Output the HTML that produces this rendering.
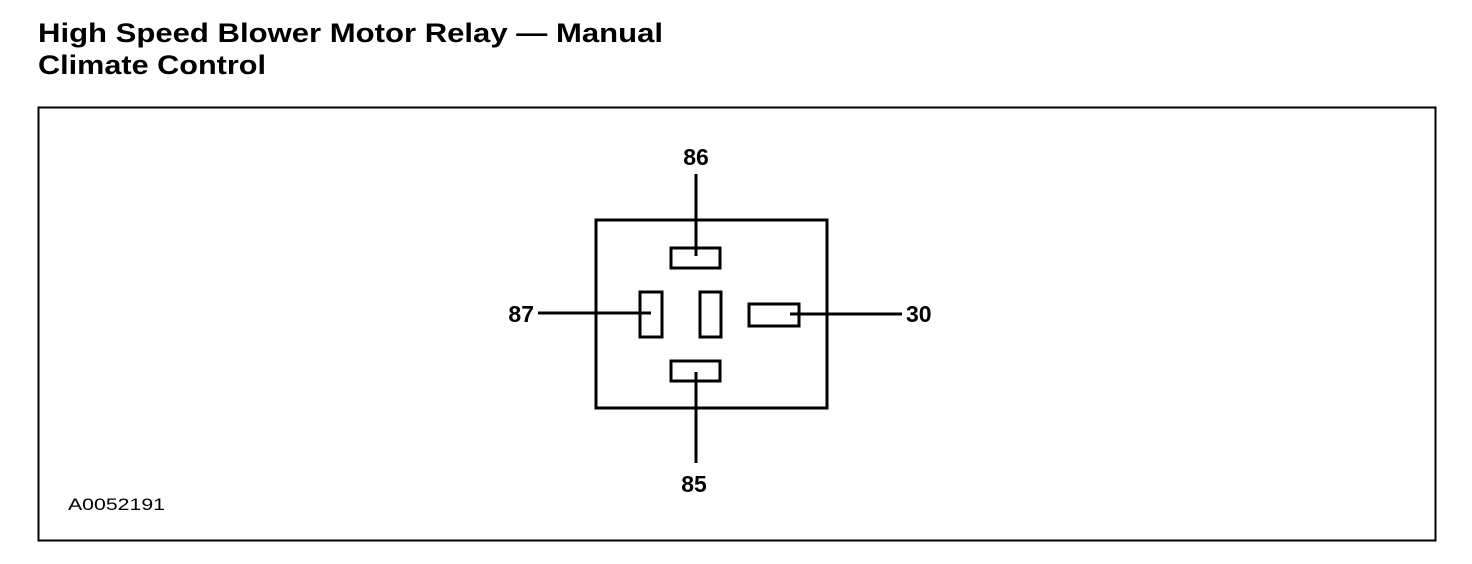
<!DOCTYPE html>
<html><head><style>
html,body{margin:0;padding:0;background:#fff;}
svg{display:block;}
text{font-family:"Liberation Sans",Arial,sans-serif;fill:#000;}
</style></head><body>
<svg width="1472" height="564" viewBox="0 0 1472 564" xmlns="http://www.w3.org/2000/svg">
<text x="38" y="42" font-size="27" font-weight="bold" textLength="625" lengthAdjust="spacingAndGlyphs">High Speed Blower Motor Relay — Manual</text>
<text x="38" y="74" font-size="27" font-weight="bold" textLength="228" lengthAdjust="spacingAndGlyphs">Climate Control</text>
<rect x="38.5" y="107.5" width="1397" height="433" fill="none" stroke="#000" stroke-width="2"/>
<g fill="none" stroke="#000" stroke-width="3">
<rect x="596" y="220" width="231" height="188"/>
<rect x="671" y="248" width="49" height="20"/>
<rect x="640" y="292" width="22" height="45"/>
<rect x="700" y="292" width="21" height="45"/>
<rect x="749" y="304" width="50" height="22"/>
<rect x="671" y="361" width="49" height="20"/>
<line x1="696" y1="174" x2="696" y2="256"/>
<line x1="696" y1="372" x2="696" y2="463"/>
<line x1="538" y1="313" x2="651" y2="313"/>
<line x1="790" y1="314" x2="902" y2="314"/>
</g>
<text x="696" y="165" font-size="23" font-weight="bold" text-anchor="middle">86</text>
<text x="694" y="492" font-size="23" font-weight="bold" text-anchor="middle">85</text>
<text x="534" y="322" font-size="23" font-weight="bold" text-anchor="end">87</text>
<text x="906" y="322" font-size="23" font-weight="bold">30</text>
<text x="68" y="510" font-size="17" textLength="97" lengthAdjust="spacingAndGlyphs">A0052191</text>
</svg>
</body></html>
